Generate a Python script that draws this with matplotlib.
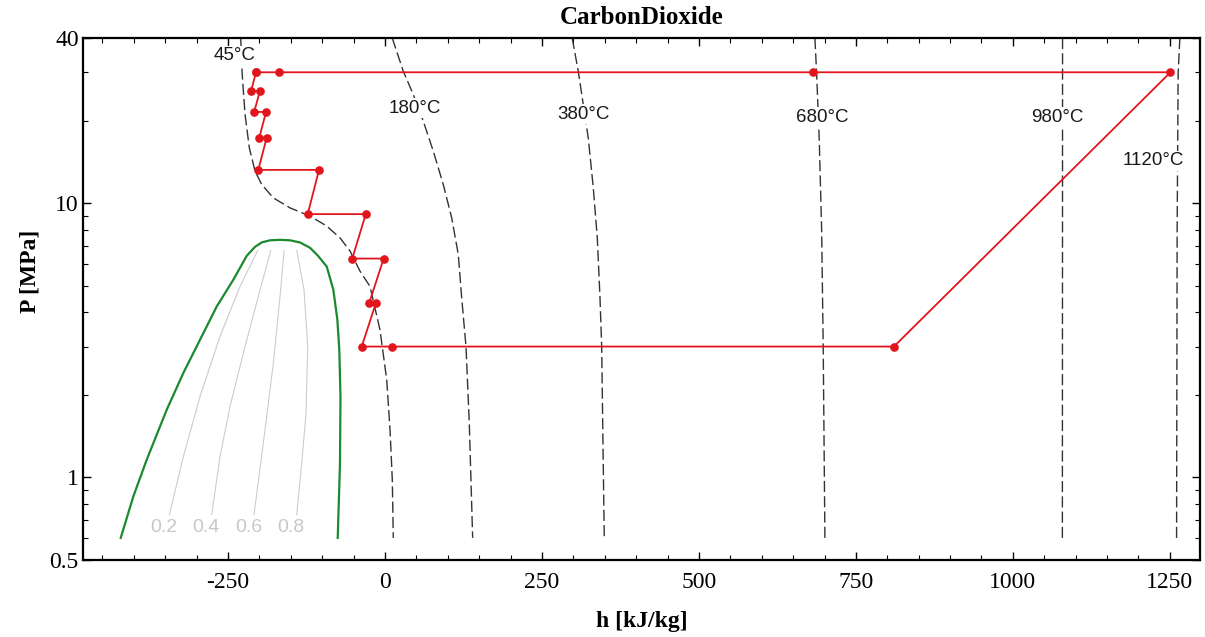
import matplotlib.pyplot as plt
from matplotlib.ticker import MultipleLocator, NullFormatter, FixedLocator

plt.rcParams["font.family"] = ["Liberation Serif", "DejaVu Serif"]
plt.rcParams["axes.unicode_minus"] = False

# saturation dome, liquid side -> critical point -> vapour side
dome_h = [-420.9, -400.8, -379.5, -347.6, -321.2, -294.6, -268.0, -241.6, -220.2, -207.0,
          -195.9, -183.1, -167.2, -151.3, -135.4, -119.4, -106.7, -92.8, -82.3, -75.9,
          -72.8, -70.9, -71.7, -75.3]
dome_P = [0.602, 0.853, 1.161, 1.766, 2.403, 3.177, 4.201, 5.255, 6.427, 6.93,
          7.197, 7.319, 7.35, 7.319, 7.19, 6.874, 6.427, 5.87, 4.834, 3.757,
          2.922, 1.974, 1.129, 0.602]

# vapour quality lines
quality_labels = ["0.2", "0.4", "0.6", "0.8"]
q02_h = [-202.8, -230.9, -262.7, -294.6, -321.1, -343.4]
q02_P = [6.72, 4.97, 3.27, 1.974, 1.194, 0.732]
q04_h = [-182.0, -199.0, -222.9, -246.8, -262.7, -276.0]
q04_P = [6.72, 4.83, 3.00, 1.816, 1.194, 0.732]
q06_h = [-160.8, -167.2, -177.8, -191.1, -208.6]
q06_P = [6.72, 4.57, 2.61, 1.493, 0.732]
q08_h = [-140.6, -129.0, -123.1, -125.8, -132.6, -140.6]
q08_P = [6.72, 4.83, 3.00, 1.718, 1.129, 0.732]

# isotherms
t45_h = [-229.8, -228.2, -225.6, -222.9, -216.1, -207.0, -196.3, -177.9, -151.3, -119.4,
         -92.8, -71.7, -55.7, -39.8, -23.9, -8.0, 2.7, 8.0, 11.6, 13.2]
t45_P = [40.0, 31.55, 25.59, 21.03, 15.91, 13.08, 11.69, 10.45, 9.61, 8.97,
         8.25, 7.47, 6.69, 5.65, 4.97, 3.45, 2.27, 1.49, 0.982, 0.602]
t180_h = [11.5, 29.1, 45.1, 61.0, 76.9, 92.8, 106.2, 116.7, 122.1, 129.0, 134.2, 139.6]
t180_P = [40.0, 30.26, 24.86, 19.89, 15.47, 11.69, 8.84, 6.50, 4.52, 3.00, 1.58, 0.602]
t380_h = [298.1, 307.8, 323.7, 331.7, 338.1, 342.4, 345.1, 346.7, 349.2]
t380_P = [40.0, 30.26, 17.29, 11.37, 7.47, 4.52, 3.00, 1.58, 0.602]
t680_h = [684.7, 687.4, 691.6, 695.4, 697.9, 700.6]
t680_P = [40.0, 29.76, 17.0, 7.99, 3.0, 0.602]
t980_h = [1079.1, 1079.0, 1078.8]
t980_P = [40.0, 7.0, 0.602]
t1120_h = [1265.9, 1263.2, 1261.6, 1260.7]
t1120_P = [40.0, 29.76, 7.99, 0.602]

iso_labels = ["45°C", "180°C", "380°C", "680°C", "980°C", "1120°C"]
iso_label_h = [-238.9, 47.8, 316.9, 695.9, 1070.0, 1222.9]
iso_label_P = [34.4, 22.2, 21.1, 20.6, 20.6, 14.26]

# sCO2 cycle with intercooled compression
cycle_h = [-205.4, -169.3, 681.5, 1251.0, 810.5, 11.6, -37.1, -14.3, -25.0, -2.1,
           -52.1, -30.7, -123.1, -105.1, -201.8, -188.4, -200.2, -189.5, -208.6,
           -199.0, -213.4, -205.4]
cycle_P = [30.0, 30.0, 30.0, 30.0, 3.0, 3.0, 3.0, 4.34, 4.34, 6.28,
           6.28, 9.12, 9.12, 13.22, 13.22, 17.34, 17.34, 21.5, 21.5,
           25.65, 25.65, 30.0]

fig = plt.figure(figsize=(12.05, 6.37), dpi=100)
ax = fig.add_axes([83 / 1205, 1 - 560 / 637, 1117 / 1205, 522 / 637])

qlines = [(q02_h, q02_P), (q04_h, q04_P), (q06_h, q06_P), (q08_h, q08_P)]
for lab, (qh, qp) in zip(quality_labels, qlines):
    ax.plot(qh, qp, color="#cccccc", lw=0.8, zorder=1)
    ax.annotate(lab, (qh[-1], qp[-1]), xytext=(-4, -9), textcoords="offset points",
                ha="center", va="center", fontsize=14, color="#c8c8c8",
                family=["Liberation Sans", "DejaVu Sans"])

ax.plot(dome_h, dome_P, color="#1b8a2e", lw=1.6, zorder=2)

isos = [(t45_h, t45_P), (t180_h, t180_P), (t380_h, t380_P),
        (t680_h, t680_P), (t980_h, t980_P), (t1120_h, t1120_P)]
for th, tp in isos:
    ax.plot(th, tp, color="#333333", lw=1.0, dashes=(8, 3), zorder=2)

for lab, lh, lp in zip(iso_labels, iso_label_h, iso_label_P):
    ax.text(lh, lp, lab, ha="center", va="center", fontsize=13.5, color="#1a1a1a",
            family=["Liberation Sans", "DejaVu Sans"], zorder=3,
            bbox=dict(facecolor="white", edgecolor="none", pad=1.0))

ax.plot(cycle_h, cycle_P, color="#e3151c", lw=1.3, marker="o", markersize=5.2, zorder=4)

ax.set_yscale("log")
ax.set_xlim(-481, 1298)
ax.set_ylim(0.5, 40)

ax.set_xticks([-250, 0, 250, 500, 750, 1000, 1250])
ax.xaxis.set_minor_locator(MultipleLocator(50))
ax.yaxis.set_major_locator(FixedLocator([0.5, 1, 10, 40]))
ax.set_yticklabels(["0.5", "1", "10", "40"])
ax.yaxis.set_minor_locator(FixedLocator([0.6, 0.7, 0.8, 0.9, 2, 3, 4, 5, 6, 7, 8, 9, 20, 30]))
ax.yaxis.set_minor_formatter(NullFormatter())

ax.tick_params(which="both", direction="in", top=True, right=True, labelsize=17)
ax.tick_params(which="major", length=6, width=1)
ax.tick_params(which="minor", length=3.5, width=0.8)
ax.tick_params(axis="x", pad=9)
ax.tick_params(axis="y", pad=3)
for s in ax.spines.values():
    s.set_linewidth(1.6)

fig.text(641.5 / 1205, 1 - 17 / 637, "CarbonDioxide", ha="center", va="center",
         fontsize=18, fontweight="bold")
fig.text(641.5 / 1205, 1 - 621 / 637, "h [kJ/kg]", ha="center", va="center",
         fontsize=17, fontweight="bold")
fig.text(30 / 1205, 1 - 271 / 637, "P [MPa]", ha="center", va="center",
         rotation=90, fontsize=17, fontweight="bold")

fig.savefig("out.png", dpi=100)
